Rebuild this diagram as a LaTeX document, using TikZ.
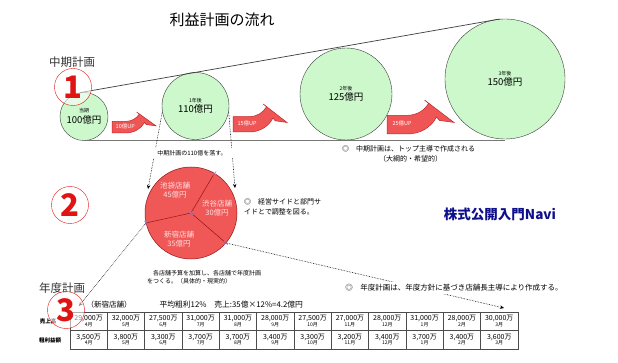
\documentclass[tikz,border=0pt]{standalone}
\usepackage{fontspec}
\setmainfont{Noto Sans CJK JP}
\usetikzlibrary{arrows.meta, shapes.misc}
\definecolor{planline}{RGB}{60,60,60}
\definecolor{plangreen}{RGB}{204,248,204}
\definecolor{uparrred}{RGB}{240,85,85}
\definecolor{uparredge}{RGB}{190,40,40}
\definecolor{piered}{RGB}{240,88,88}
\definecolor{pieedge}{RGB}{150,20,20}
\definecolor{pielabel}{RGB}{255,225,225}
\definecolor{numred}{RGB}{225,20,20}
\definecolor{navblue}{RGB}{15,15,140}
\definecolor{handlecol}{RGB}{150,120,220}
\newcommand\fsz[1]{\fontsize{#1}{#1}\selectfont}

\begin{document}
\begin{tikzpicture}[x=1pt, y=-1pt,
  plan/.style={circle, draw=planline, fill=plangreen, inner sep=0pt, align=center, font=\fsz{9.5}},
  num/.style={circle, draw=numred, fill=white, fill opacity=0.55, text opacity=1, text=numred, inner sep=0pt, minimum size=37pt, font=\fsz{31}\bfseries},
  head/.style={font=\fsz{11.5}, text=black!80},
  note/.style={align=left, font=\fsz{7}, inner sep=1pt},
  pielbl/.style={align=center, text=pielabel, font=\fsz{7.5}, inner sep=0pt},
  handle/.style={cross out, draw=handlecol, minimum size=3pt, inner sep=0pt, line width=0.5pt},
  dots/.style={densely dotted, line width=0.6pt, -{Stealth[length=4pt, width=3.5pt]}},
  cell/.style={rectangle, draw=black!70, minimum width=37.33pt, minimum height=18.5pt, inner sep=0pt, align=center, font=\fsz{7}},
  rowlbl/.style={font=\fsz{5.5}\bfseries},
  uparr/.pic={
    \filldraw[fill=uparrred, draw=uparredge, line width=0.5pt] (0,0.45) -- (0.3,0.45)
      .. controls (0.45,0.45) and (0.56,0.3) .. (0.62,0.1) -- (0.56,0) -- (1,0.66) -- (0.78,0.6) -- (0.74,0.5)
      .. controls (0.66,0.8) and (0.5,1) .. (0.3,1) -- (0,1) -- cycle;
    \node[text=white, font=\fsz{5.5}, anchor=west, inner sep=0pt] (-lbl) at (0.08,0.68) {#1};
  }
]
\useasboundingbox[fill=white] (0,0) rectangle (618,363);

% mid-term plan
\node[font=\fsz{15}] (title) at (222,20) {利益計画の流れ};
\node[head] (midlbl) at (72,62) {中期計画};
\node[plan, minimum size=48pt] (c0) at (84,116.5) {{\fsz{5}当期}\\[1pt]100億円};
\node[plan, minimum size=67pt] (c1) at (195.5,106) {{\fsz{5}1年後}\\[1pt]110億円};
\node[plan, minimum size=92pt] (c2) at (346,94) {{\fsz{5}2年後}\\[1pt]125億円};
\node[plan, minimum size=120pt] (c3) at (505,79) {{\fsz{5}3年後}\\[1pt]150億円};
\draw[planline, line width=0.7pt] (c0.100) -- (c3.95);
\draw[planline!70, line width=0.7pt] (c0.south) -- (c0.south -| c3.south);
\pic[xscale=44, yscale=21] (up1) at (112,112) {uparr=10億UP};
\pic[xscale=54, yscale=28] (up2) at (233,104) {uparr=15億UP};
\pic[xscale=67, yscale=34] (up3) at (387,100) {uparr=25億UP};
\node[num] (n1) at (73,87) {1};
\node[note, anchor=west] (topnote) at (341,154) {◎　中期計画は、トップ主導で作成される\\[3pt]\hspace{37pt}（大綱的・希望的）};

% store split
\coordinate (pl) at (148,189);
\coordinate (pr) at (235,188);
\draw[dots] (c1.190) -- (pl);
\draw[dots] (c1.350) -- (pr);
\node[font=\fsz{6}, fill=white, minimum width=88pt, inner sep=2pt] (droptxt) at (192,153) {中期計画の110億を落す。};
\node[num] (n2) at (70,205) {2};
\coordinate (pc) at (191,213);
\filldraw[fill=piered, draw=pieedge, line width=0.5pt] (pc) circle[radius=46pt];
\path (pc) +(59.5:46pt) coordinate (pa) +(192.5:46pt) coordinate (pb) +(319.4:46pt) coordinate (pd);
\draw[pieedge, line width=0.5pt] (pa) -- (pc) -- (pb) (pc) -- (pd);
\foreach \p in {pa,pb,pc,pd}
  \node[handle] (h\p) at (\p) {};
\node[pielbl] (ikb) at (175,190) {池袋店舗\\[1.5pt]45億円};
\node[pielbl] (sby) at (217,208) {渋谷店舗\\[1.5pt]30億円};
\node[pielbl] (snj) at (179,239) {新宿店舗\\[1.5pt]35億円};
\node[note, anchor=west] (sidenote) at (243,207) {◎　経営サイドと部門サ\\[2.5pt]イドとで調整を図る。};
\node[note, anchor=west, font=\fsz{6}] (sumnote) at (146,277) {　各店舗予算を加算し、各店舗で年度計画\\[2pt]をつくる。（具体的・現実的）};
\node[font=\fsz{13.5}\bfseries, text=navblue] (navi) at (500,214) {株式公開入門Navi};

% yearly plan
\coordinate (n3tip) at (79,306);
\coordinate (tbltip) at (504,308);
\draw[dots] (pb) -- (n3tip);
\draw[dots] (pd) -- (tbltip);
\node[note, fill=white, font=\fsz{7.5}, inner sep=3pt] (yearnote) at (454,288) {◎　年度計画は、年度方針に基づき店舗長主導により作成する。};
\node[head] (yearlbl) at (62,288) {年度計画};
\node[font=\fsz{7.5}] (shop) at (109,305) {（新宿店舗）};
\node[font=\fsz{7.8}, anchor=west] (margin) at (156,305) {平均粗利12\%　売上:35億×12\%=4.2億円};
\node[rowlbl] (salelbl) at (48,321.5) {売上高};
\node[rowlbl] (grosslbl) at (50,340) {粗利益額};
\foreach \sv/\gv/\m [count=\i] in {29{,}000/3{,}500/4, 32{,}000/3{,}800/5, 27{,}500/3{,}300/6,
    31{,}000/3{,}700/7, 31{,}000/3{,}700/8, 28{,}000/3{,}400/9, 27{,}500/3{,}300/10,
    27{,}000/3{,}200/11, 28{,}000/3{,}400/12, 31{,}000/3{,}700/1, 28{,}000/3{,}400/2, 30{,}000/3{,}600/3} {
  \node[cell] (s\i) at (70+37.33*\i-18.67, 321.25) {\sv{}万\\[-1.5pt]{\fsz{5}\m{}月}};
  \node[cell] (g\i) at (70+37.33*\i-18.67, 339.75) {\gv{}万\\[-1.5pt]{\fsz{5}\m{}月}};
}
\node[num] (n3) at (66,310) {3};
\end{tikzpicture}
\end{document}
